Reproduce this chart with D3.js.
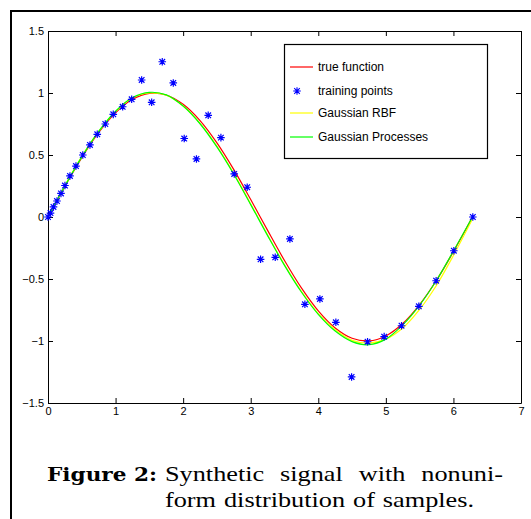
<!DOCTYPE html>
<html>
<head>
<meta charset="utf-8">
<script src="https://cdn.jsdelivr.net/npm/d3@7"></script>
<style>
  body { margin: 0; background: #fff; }
  svg { display: block; }
  .tick text { font-family: "Liberation Sans", Arial, sans-serif; font-size: 11px; fill: #000; }
  .axis path, .axis line { stroke: #000; }
</style>
</head>
<body>
<script>
// grid for the three curves
var xs = [0, 0.25, 0.5, 0.75, 1, 1.25, 1.5, 1.75, 2, 2.25, 2.5, 2.75, 3, 3.25, 3.5, 3.75, 4, 4.25, 4.5, 4.75, 5, 5.25, 5.5, 5.75, 6, 6.25, 6.28]
var trueY = [0, 0.247, 0.479, 0.682, 0.841, 0.949, 0.997, 0.984, 0.909, 0.778, 0.598, 0.382, 0.141, -0.108, -0.351, -0.572, -0.757, -0.895, -0.978, -0.999, -0.959, -0.859, -0.706, -0.510, -0.279, -0.033, 0]
var rbfY = [0, 0.252, 0.487, 0.69, 0.85, 0.96, 1.0, 0.982, 0.895, 0.755, 0.57, 0.35, 0.105, -0.145, -0.385, -0.6, -0.78, -0.91, -0.995, -1.017, -0.985, -0.895, -0.745, -0.55, -0.31, -0.05, -0.02]
var gpY = [0, 0.25, 0.485, 0.69, 0.853, 0.963, 1.005, 0.985, 0.895, 0.752, 0.565, 0.345, 0.10, -0.15, -0.39, -0.605, -0.785, -0.92, -1.005, -1.03, -0.985, -0.87, -0.71, -0.51, -0.275, -0.03, 0]

// training points
var ptX = [0, 0.037, 0.081, 0.133, 0.192, 0.251, 0.325, 0.414, 0.515, 0.621, 0.729, 0.848, 0.966, 1.105, 1.238, 1.386, 1.534, 1.691, 1.854, 2.016, 2.197, 2.371, 2.559, 2.756, 2.948, 3.146, 3.363, 3.580, 3.802, 4.024, 4.260, 4.493, 4.729, 4.975, 5.232, 5.488, 5.744, 6.006, 6.287]
var ptY = [0, 0.032, 0.081, 0.129, 0.19, 0.254, 0.331, 0.411, 0.5, 0.581, 0.667, 0.75, 0.828, 0.889, 0.949, 1.105, 0.925, 1.252, 1.081, 0.633, 0.468, 0.820, 0.640, 0.347, 0.240, -0.341, -0.325, -0.177, -0.704, -0.661, -0.849, -1.290, -1.006, -0.965, -0.877, -0.720, -0.514, -0.272, 0]

var xTicks = [0, 1, 2, 3, 4, 5, 6, 7]
var yTicks = [-1.5, -1, -0.5, 0, 0.5, 1, 1.5]

var legendNames = ["true function", "training points", "Gaussian RBF", "Gaussian Processes"]
var legendColors = ["#ff0000", "#0000ff", "#ffff00", "#00ff00"]

var captionLines = ["Synthetic signal with nonuni-", "form distribution of samples."]

var W = 531, H = 519

var svg = d3.select("body").append("svg")
  .attr("width", W)
  .attr("height", H)

// page frame
svg.append("path")
  .attr("d", "M11,519 L11,11 L531,11")
  .attr("fill", "none")
  .attr("stroke", "#000")
  .attr("stroke-width", 2)

var x = d3.scaleLinear().domain([0, 7]).range([48, 521])
var y = d3.scaleLinear().domain([-1.5, 1.5]).range([403, 31])

var fmt = function(d) { return d3.format("")(d).replace("-", "\u2212") }

svg.append("g").attr("class", "axis")
  .attr("transform", "translate(0," + y(-1.5) + ")")
  .call(d3.axisBottom(x).tickValues(xTicks).tickSizeInner(-5).tickSizeOuter(0).tickPadding(4).tickFormat(fmt))
svg.append("g").attr("class", "axis")
  .attr("transform", "translate(0," + y(1.5) + ")")
  .call(d3.axisTop(x).tickValues(xTicks).tickSizeInner(-5).tickSizeOuter(0).tickFormat(""))
svg.append("g").attr("class", "axis")
  .attr("transform", "translate(" + x(0) + ",0)")
  .call(d3.axisLeft(y).tickValues(yTicks).tickSizeInner(-5).tickSizeOuter(0).tickPadding(4).tickFormat(fmt))
svg.append("g").attr("class", "axis")
  .attr("transform", "translate(" + x(7) + ",0)")
  .call(d3.axisRight(y).tickValues(yTicks).tickSizeInner(-5).tickSizeOuter(0).tickFormat(""))

var line = d3.line()
  .x(function(d) { return x(d[0]) })
  .y(function(d) { return y(d[1]) })
  .curve(d3.curveCatmullRom)

function curve(ys, color) {
  svg.append("path")
    .datum(xs.map(function(v, i) { return [v, ys[i]] }))
    .attr("d", line)
    .attr("fill", "none")
    .attr("stroke", color)
    .attr("stroke-width", 1.2)
}
curve(trueY, legendColors[0])
curve(rbfY, legendColors[2])
curve(gpY, legendColors[3])

// MATLAB style '*' marker
var r = 3.8, rd = 2.8
var star = "M0," + (-r) + "V" + r + "M" + (-r) + ",0H" + r +
  "M" + (-rd) + "," + (-rd) + "L" + rd + "," + rd + "M" + (-rd) + "," + rd + "L" + rd + "," + (-rd)

svg.append("g").selectAll("path")
  .data(ptX.map(function(v, i) { return [v, ptY[i]] }))
  .enter().append("path")
  .attr("transform", function(d) { return "translate(" + x(d[0]) + "," + y(d[1]) + ")" })
  .attr("d", star)
  .attr("stroke", legendColors[1])
  .attr("stroke-width", 1.2)
  .attr("fill", "none")

// legend
var lg = svg.append("g")
lg.append("rect")
  .attr("x", 284.5).attr("y", 44.5)
  .attr("width", 203).attr("height", 114)
  .attr("fill", "#fff")
  .attr("stroke", "#000")
  .attr("stroke-width", 1.2)

var rows = lg.selectAll("g.row")
  .data(legendNames)
  .enter().append("g")
  .attr("class", "row")
  .attr("transform", function(d, i) { return "translate(0," + [67, 91, 113, 137][i] + ")" })

rows.each(function(d, i) {
  var g = d3.select(this)
  if (i == 1)
    g.append("path").attr("transform", "translate(297,0)").attr("d", star)
      .attr("stroke", legendColors[1]).attr("stroke-width", 1.1)
  else
    g.append("line").attr("x1", 290).attr("x2", 313).attr("y1", 0).attr("y2", 0)
      .attr("stroke", legendColors[i]).attr("stroke-width", 1.2)
  g.append("text")
    .attr("x", 318).attr("y", 4)
    .attr("font-family", "Liberation Sans, Arial, sans-serif")
    .attr("font-size", 12)
    .text(d)
})

// caption
svg.append("text").attr("x", 47).attr("y", 481)
  .attr("font-family", "DejaVu Serif, serif")
  .attr("font-size", 19)
  .attr("font-weight", "bold")
  .attr("textLength", 110).attr("lengthAdjust", "spacingAndGlyphs")
  .text("Figure 2:")

// justified lines: widen each word (CM is wider than Liberation) and spread to [x0, x1]
var stretch = 1.25
function justify(str, x0, x1, yy) {
  var words = str.split(" ")
  var g = svg.append("g")
    .attr("font-family", "Liberation Serif, DejaVu Serif, serif")
    .attr("font-size", 21)
  var t = g.selectAll("text").data(words).enter().append("text")
    .attr("y", yy)
    .text(function(d) { return d })
  var widths = t.nodes().map(function(n) { return n.getComputedTextLength() * stretch })
  t.attr("textLength", function(d, i) { return widths[i] })
    .attr("lengthAdjust", "spacingAndGlyphs")
  var gap = (x1 - x0 - d3.sum(widths)) / (words.length - 1)
  var pos = x0
  t.attr("x", function(d, i) { var p = pos; pos += widths[i] + gap; return p })
}
justify(captionLines[0], 165, 503, 481)
justify(captionLines[1], 165, 474, 507)
</script>
</body>
</html>
